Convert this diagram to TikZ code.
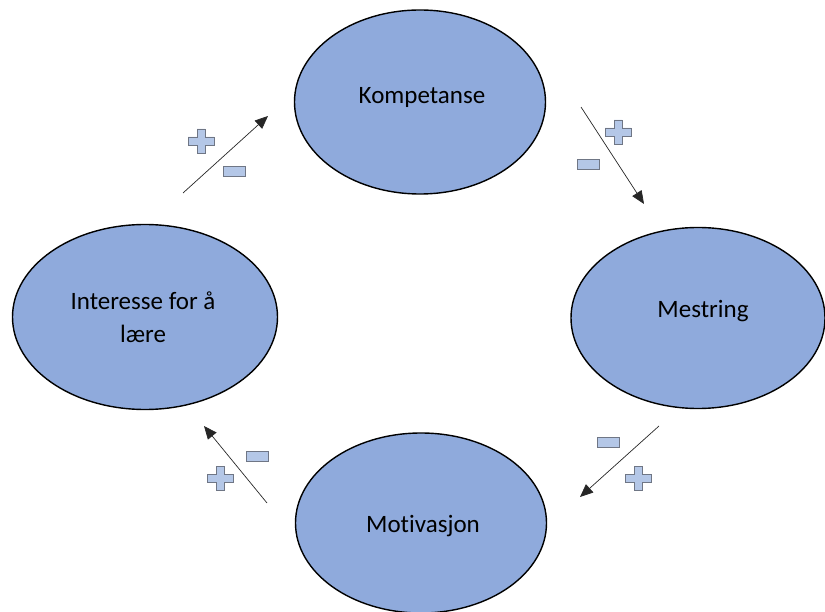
\documentclass[tikz,border=0pt]{standalone}
\usepackage{fontspec}
\setmainfont[Ligatures=NoCommon]{Carlito}
\usetikzlibrary{shapes.geometric,arrows.meta}
\definecolor{ellfill}{HTML}{8FAADC}
\definecolor{signfill}{HTML}{B4C7E7}
\definecolor{signdraw}{HTML}{6F7685}
\tikzset{
  bubble/.style={ellipse, draw=black, line width=1.4pt, fill=ellfill, inner sep=0pt},
  bubbletext/.style={font=\fontsize{25}{33}\selectfont, align=center, text=black, inner sep=0pt, anchor=base},
  flow/.style={draw=black!85, line width=0.7pt, -{Triangle[length=13pt,width=11pt]}},
  plussign/.pic={\draw[signdraw, fill=signfill, line width=0.9pt]
     (-4,-12) -- (4,-12) -- (4,-4) -- (13,-4) -- (13,4) -- (4,4) -- (4,12) -- (-4,12) -- (-4,4) -- (-13,4) -- (-13,-4) -- (-4,-4) -- cycle;},
  minussign/.pic={\draw[signdraw, fill=signfill, line width=0.9pt] (-11,-5) rectangle (11,5);}
}
\begin{document}
\begin{tikzpicture}[x=1pt,y=-1pt]
\useasboundingbox (0,0) rectangle (825,612);
\node[bubble, minimum width=251pt, minimum height=184pt] (komp) at (420,102) {};
\node[bubble, minimum width=265pt, minimum height=185pt] (int) at (145,317) {};
\node[bubble, minimum width=254pt, minimum height=181pt] (mest) at (698,318) {};
\node[bubble, minimum width=251pt, minimum height=180pt] (mot) at (421,523) {};

\node[bubbletext] (kompT) at (422,104) {Kompetanse};
\node[bubbletext] (intT) at (143,343) {Interesse for å\\lære};
\node[bubbletext] (mestT) at (703,318) {Mestring};
\node[bubbletext] (motT) at (423,532) {Motivasjon};

\coordinate (a1s) at (183,193); \coordinate (a1e) at (268,116);
\coordinate (a2s) at (581,107); \coordinate (a2e) at (644,204);
\coordinate (a3s) at (659,426); \coordinate (a3e) at (580,497);
\coordinate (a4s) at (267,503); \coordinate (a4e) at (204,426);
\draw[flow] (a1s) -- (a1e);
\draw[flow] (a2s) -- (a2e);
\draw[flow] (a3s) -- (a3e);
\draw[flow] (a4s) -- (a4e);

\pic at (201,141) {plussign};
\pic at (234,171) {minussign};
\pic at (618,132) {plussign};
\pic at (588,164) {minussign};
\pic at (608,442) {minussign};
\pic at (638,478) {plussign};
\pic at (257,456) {minussign};
\pic at (220,478) {plussign};
\end{tikzpicture}
\end{document}
